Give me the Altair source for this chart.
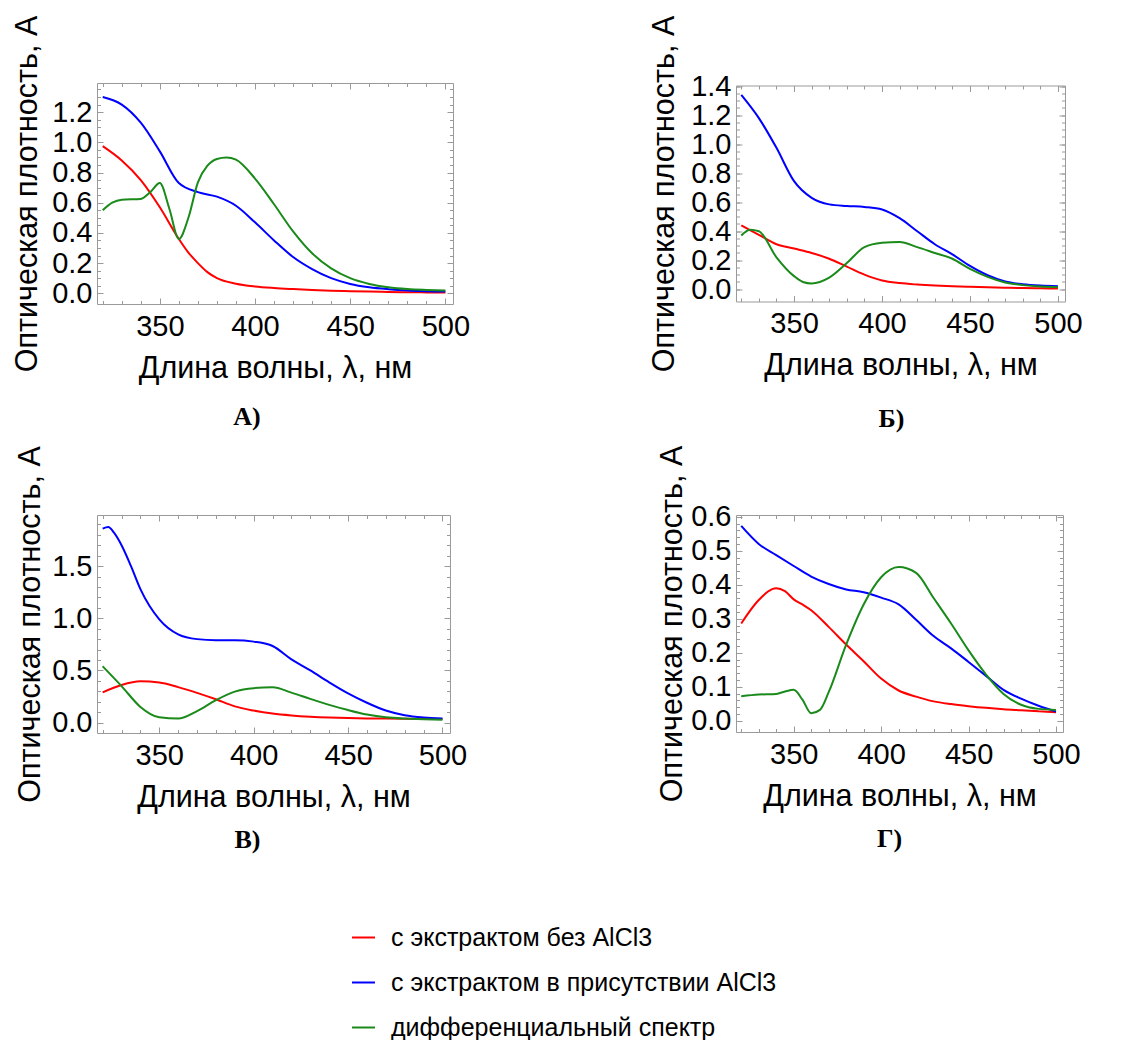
import altair as alt
import pandas as pd

SERIES = ["с экстрактом без AlCl3", "с экстрактом в присутствии AlCl3", "дифференциальный спектр"]
COLORS = ["#ff0000", "#0000ff", "#1a8a1a"]
FRAME = "#9a9a9a"
FONT = "Liberation Sans"

X_DOMAIN = [317, 504]
X_MAJOR = [350, 400, 450, 500]
X_MINOR = [320, 330, 340, 360, 370, 380, 390, 410, 420, 430, 440, 460, 470, 480, 490]

WL10 = [320, 330, 340, 350, 360, 370, 380, 390, 400, 410, 420, 430, 440, 450, 460, 470, 480, 490, 500]

# ---- Panel А ----
A_RED_WL = [320, 330, 340, 350, 360, 365, 370, 375, 380, 390, 400, 410, 420, 430, 440, 450, 460, 470, 480, 490, 500]
A_RED = [0.975, 0.88, 0.75, 0.57, 0.36, 0.27, 0.20, 0.14, 0.10, 0.063, 0.045, 0.035, 0.028, 0.022, 0.017, 0.014, 0.011, 0.009, 0.007, 0.006, 0.005]
A_BLUE_WL = WL10
A_BLUE = [1.30, 1.25, 1.13, 0.94, 0.73, 0.67, 0.64, 0.58, 0.47, 0.35, 0.24, 0.16, 0.10, 0.062, 0.04, 0.027, 0.018, 0.013, 0.011]
A_GREEN_WL = [320, 325, 330, 340, 345, 350, 355, 360, 365, 370, 375, 380, 385, 390, 400, 410, 420, 430, 440, 450, 460, 470, 480, 490, 500]
A_GREEN = [0.55, 0.60, 0.62, 0.625, 0.67, 0.73, 0.56, 0.36, 0.50, 0.735, 0.845, 0.89, 0.90, 0.885, 0.76, 0.59, 0.41, 0.265, 0.165, 0.10, 0.062, 0.04, 0.028, 0.022, 0.018]

# ---- Panel Б ----
B_RED_WL = WL10
B_RED = [0.44, 0.375, 0.31, 0.28, 0.25, 0.21, 0.155, 0.10, 0.06, 0.042, 0.032, 0.025, 0.02, 0.016, 0.013, 0.01, 0.008, 0.006, 0.005]
B_BLUE_WL = WL10
B_BLUE = [1.34, 1.18, 0.975, 0.745, 0.63, 0.585, 0.574, 0.567, 0.55, 0.49, 0.40, 0.31, 0.24, 0.16, 0.096, 0.053, 0.034, 0.025, 0.021]
B_GREEN_WL = [320, 325, 330, 340, 350, 355, 360, 370, 380, 390, 400, 410, 420, 430, 440, 450, 460, 470, 480, 490, 500]
B_GREEN = [0.37, 0.41, 0.40, 0.22, 0.09, 0.05, 0.04, 0.08, 0.18, 0.29, 0.32, 0.326, 0.29, 0.25, 0.21, 0.14, 0.085, 0.046, 0.028, 0.018, 0.014]

# ---- Panel В ----
C_RED_WL = WL10
C_RED = [0.29, 0.36, 0.395, 0.385, 0.34, 0.285, 0.223, 0.155, 0.115, 0.086, 0.068, 0.056, 0.048, 0.043, 0.04, 0.038, 0.036, 0.035, 0.034]
C_BLUE_WL = [320, 323, 326, 330, 335, 340, 350, 360, 370, 380, 390, 400, 410, 420, 430, 440, 450, 460, 470, 480, 490, 500]
C_BLUE = [1.86, 1.875, 1.82, 1.70, 1.50, 1.28, 0.99, 0.846, 0.80, 0.79, 0.79, 0.776, 0.734, 0.606, 0.50, 0.386, 0.28, 0.19, 0.115, 0.07, 0.048, 0.038]
C_GREEN_WL = WL10
C_GREEN = [0.54, 0.35, 0.15, 0.05, 0.038, 0.11, 0.215, 0.297, 0.33, 0.338, 0.287, 0.227, 0.17, 0.12, 0.077, 0.05, 0.038, 0.032, 0.026]

# ---- Panel Г ----
D_RED_WL = [320, 330, 340, 345, 350, 355, 360, 370, 380, 390, 400, 410, 420, 430, 440, 450, 460, 470, 480, 490, 500]
D_RED = [0.286, 0.355, 0.39, 0.381, 0.357, 0.342, 0.325, 0.276, 0.224, 0.175, 0.124, 0.089, 0.071, 0.057, 0.049, 0.043, 0.038, 0.034, 0.031, 0.028, 0.025]
D_BLUE_WL = WL10
D_BLUE = [0.573, 0.52, 0.487, 0.455, 0.424, 0.402, 0.386, 0.378, 0.362, 0.342, 0.297, 0.249, 0.213, 0.173, 0.132, 0.091, 0.065, 0.044, 0.027]
D_GREEN_WL = [320, 330, 340, 345, 350, 355, 360, 365, 370, 380, 390, 400, 410, 420, 430, 440, 450, 460, 470, 480, 490, 500]
D_GREEN = [0.072, 0.077, 0.079, 0.086, 0.091, 0.062, 0.022, 0.032, 0.084, 0.224, 0.342, 0.422, 0.452, 0.435, 0.361, 0.286, 0.207, 0.136, 0.079, 0.047, 0.035, 0.032]

A_Y_MAJOR = [0.0, 0.2, 0.4, 0.6, 0.8, 1.0, 1.2]
B_Y_MAJOR = [0.0, 0.2, 0.4, 0.6, 0.8, 1.0, 1.2, 1.4]
C_Y_MAJOR = [0.0, 0.5, 1.0, 1.5]
D_Y_MAJOR = [0.0, 0.1, 0.2, 0.3, 0.4, 0.5, 0.6]


def minor_ticks(lo, hi, step):
    out = []
    k = int(lo / step) + 1
    while k * step < hi:
        out.append(round(k * step, 4))
        k += 1
    return out


def make_df(parts):
    rows = []
    for k, (wl, vals) in enumerate(parts):
        for w, v in zip(wl, vals):
            rows.append({"wl": w, "A": v, "series": SERIES[k]})
    return pd.DataFrame(rows)


LEGEND = alt.Legend(
    orient="none", legendX=254, legendY=842, title=None,
    symbolType="stroke", symbolSize=529, symbolStrokeWidth=2,
    labelFont=FONT, labelFontSize=25, labelColor="black", labelOffset=15,
    rowPadding=19, direction="vertical", labelLimit=700,
)

MAJ, MIN = 6, 3.5
TICK_FS = 29
TITLE_FS = 30.5


def tick_axis(orient, values, size):
    return alt.Axis(orient=orient, values=values, offset=-size, tickSize=size,
                    tickColor=FRAME, tickWidth=1, domain=False, labels=False,
                    grid=False, title=None)


def panel(df, ydom, y_major, y_minor, w, h, label, label_dx, label_off, ytitle_x):
    xs = alt.Scale(domain=X_DOMAIN, nice=False, zero=False)
    ys = alt.Scale(domain=ydom, nice=False, zero=False)
    x_lab = alt.Axis(
        orient="bottom", values=X_MAJOR, format="d", offset=-MAJ, tickSize=MAJ,
        tickColor=FRAME, domain=False, grid=False, labelPadding=8,
        labelFontSize=TICK_FS, labelFont=FONT, labelColor="black", labelOverlap=False,
        title="Длина волны, λ, нм", titleFont=FONT, titleFontSize=TITLE_FS,
        titleFontWeight="normal", titleColor="black", titleX=w / 2, titleY=79,
        titleBaseline="alphabetic", titleAlign="center",
    )
    y_lab = alt.Axis(
        orient="left", values=y_major, format=".1f", offset=-MAJ, tickSize=MAJ,
        tickColor=FRAME, domain=False, grid=False, labelPadding=5,
        labelFontSize=TICK_FS, labelFont=FONT, labelColor="black", labelOverlap=False,
        title="Оптическая плотность, А", titleFont=FONT, titleFontSize=TITLE_FS,
        titleFontWeight="normal", titleColor="black", titleX=ytitle_x - MAJ,
        titleY=h / 2, titleAngle=270, titleBaseline="alphabetic", titleAlign="center",
    )
    lines = alt.Chart(df).mark_line(strokeWidth=2, interpolate="monotone").encode(
        x=alt.X("wl:Q", scale=xs, axis=x_lab),
        y=alt.Y("A:Q", scale=ys, axis=y_lab),
        color=alt.Color("series:N", scale=alt.Scale(domain=SERIES, range=COLORS), legend=LEGEND),
    )

    def ghost(xax, yax):
        return alt.Chart(df).mark_line(strokeOpacity=0).encode(
            x=alt.X("wl:Q", scale=xs, axis=xax),
            y=alt.Y("A:Q", scale=ys, axis=yax),
            detail="series:N",
        )

    g1 = ghost(tick_axis("bottom", X_MINOR, MIN), tick_axis("left", y_minor, MIN))
    g2 = ghost(tick_axis("top", X_MAJOR, MAJ), tick_axis("right", y_major, MAJ))
    g3 = ghost(tick_axis("top", X_MINOR, MIN), tick_axis("right", y_minor, MIN))
    return alt.layer(lines, g1, g2, g3).resolve_scale(
        x="independent", y="independent"
    ).properties(
        width=w, height=h,
        title=alt.TitleParams(label, orient="bottom", anchor="middle", frame="group",
                              font="Liberation Serif", fontSize=26, fontWeight="bold",
                              color="black", dx=label_dx, offset=label_off),
    )


dfA = make_df([(A_RED_WL, A_RED), (A_BLUE_WL, A_BLUE), (A_GREEN_WL, A_GREEN)])
dfB = make_df([(B_RED_WL, B_RED), (B_BLUE_WL, B_BLUE), (B_GREEN_WL, B_GREEN)])
dfC = make_df([(C_RED_WL, C_RED), (C_BLUE_WL, C_BLUE), (C_GREEN_WL, C_GREEN)])
dfD = make_df([(D_RED_WL, D_RED), (D_BLUE_WL, D_BLUE), (D_GREEN_WL, D_GREEN)])

pA = panel(dfA, [-0.071, 1.393], A_Y_MAJOR, minor_ticks(-0.071, 1.393, 0.05), 356, 221, "А)", -28, 20, -61)
pB = panel(dfB, [-0.085, 1.405], B_Y_MAJOR, minor_ticks(-0.085, 1.405, 0.05), 329, 216, "Б)", -9, 25, -63)
pC = panel(dfC, [-0.10, 1.99], C_Y_MAJOR, minor_ticks(-0.10, 1.99, 0.1), 353, 218, "В)", -26, 14, -58)
pD = panel(dfD, [-0.033, 0.605], D_Y_MAJOR, minor_ticks(-0.033, 0.605, 0.02), 327, 217, "Г)", -10, 14, -55)

chart = alt.concat(
    pA, pB, pC, pD, columns=2,
    spacing={"row": 211, "column": 283}, bounds="flush", center={"row": True},
).properties(
    padding={"left": 3, "top": 6, "right": 5, "bottom": 5},
    background="white",
).configure_view(stroke=FRAME, strokeWidth=1)

chart.save("out.html", embed_options={"renderer": "svg", "actions": False})
